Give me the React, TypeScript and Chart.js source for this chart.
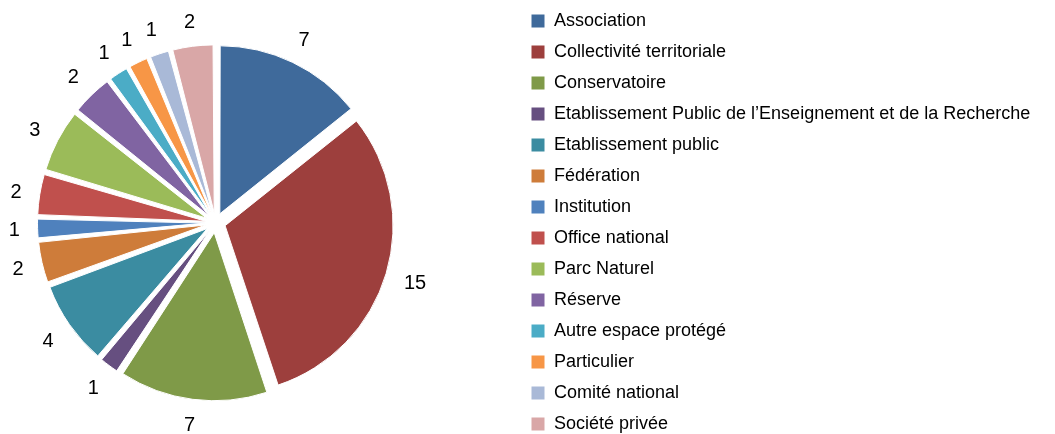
import React, { useEffect, useRef } from "react";
import { Chart, registerables } from "chart.js";

Chart.register(...registerables);

const categories = [
  "Association",
  "Collectivité territoriale",
  "Conservatoire",
  "Etablissement Public de l’Enseignement et de la Recherche",
  "Etablissement public",
  "Fédération",
  "Institution",
  "Office national",
  "Parc Naturel",
  "Réserve",
  "Autre espace protégé",
  "Particulier",
  "Comité national",
  "Société privée",
];

const counts = [7, 15, 7, 1, 4, 2, 1, 2, 3, 2, 1, 1, 1, 2];

const sliceColors = [
  "#3F6A9B",
  "#9D3F3D",
  "#7F9A48",
  "#664F80",
  "#3B8CA1",
  "#CE7C3A",
  "#4F81BD",
  "#C0504D",
  "#9BBB59",
  "#8064A2",
  "#4BACC6",
  "#F79646",
  "#A9B9D7",
  "#D9A7A7",
];

// layout constants (styles / geometry of the frame, not data)
const CANVAS_W = 1055;
const CANVAS_H = 460;
const CENTER_X = 215.5;
const CENTER_Y = 222.8;
const AREA = 377;
const EXPLODE = 10; // px translation of every slice
const OFFSET = EXPLODE * 4; // chart.js divides offset by 4
const LEGEND_LEFT = 518;
const LEGEND_TOP = -1;
const LABEL_GAP = 17.5;
const FONT = "'Liberation Sans', Arial, sans-serif";

const framePlugin = {
  id: "framePlugin",
  afterLayout(chart: any) {
    const a = chart.chartArea;
    a.left = CENTER_X - AREA / 2;
    a.right = CENTER_X + AREA / 2;
    a.top = CENTER_Y - AREA / 2;
    a.bottom = CENTER_Y + AREA / 2;
    a.width = AREA;
    a.height = AREA;
    const lg = chart.legend;
    if (lg) {
      const w = lg.width;
      const h = lg.height;
      lg.left = LEGEND_LEFT;
      lg.right = LEGEND_LEFT + w;
      lg.top = LEGEND_TOP;
      lg.bottom = LEGEND_TOP + h;
    }
  },
  afterDatasetsUpdate(chart: any) {
    const meta = chart.getDatasetMeta(0);
    meta.data.forEach((arc: any) => {
      const off = OFFSET / 4;
      const fix = 1 - Math.sin(Math.min(Math.PI, arc.circumference || 0));
      arc.outerRadius = arc.outerRadius - off * fix;
    });
  },
};

const labelPlugin = {
  id: "outsideLabels",
  afterDatasetsDraw(chart: any) {
    const meta = chart.getDatasetMeta(0);
    const ctx = chart.ctx;
    const baseR = meta.controller.outerRadius;
    ctx.save();
    ctx.font = `20px ${FONT}`;
    ctx.fillStyle = "#000";
    ctx.textAlign = "center";
    ctx.textBaseline = "middle";
    meta.data.forEach((arc: any, i: number) => {
      const mid = (arc.startAngle + arc.endAngle) / 2;
      const ux = Math.cos(mid);
      const uy = Math.sin(mid);
      const text = String(counts[i]);
      const hw = ctx.measureText(text).width / 2;
      const hh = 7;
      const R = baseR + EXPLODE + LABEL_GAP + Math.abs(ux) * hw + Math.abs(uy) * hh;
      ctx.fillText(text, arc.x + ux * R, arc.y + uy * R + 1.5);
    });
    ctx.restore();
  },
};

export default function App() {
  const ref = useRef<HTMLCanvasElement | null>(null);

  useEffect(() => {
    if (!ref.current) return;
    const chart = new Chart(ref.current, {
      type: "pie",
      data: {
        labels: categories,
        datasets: [
          {
            data: counts,
            backgroundColor: sliceColors,
            borderColor: "#ffffff",
            borderWidth: 1,
            offset: OFFSET,
            hoverOffset: OFFSET,
            clip: false,
          } as any,
        ],
      },
      options: {
        responsive: false,
        animation: false,
        devicePixelRatio: 1,
        layout: { padding: 0 },
        plugins: {
          legend: {
            display: true,
            position: "right",
            align: "start",
            labels: {
              boxWidth: 14,
              boxHeight: 14,
              padding: 13,
              color: "#000",
              font: { family: FONT, size: 18 },
            },
          },
          tooltip: { enabled: false },
        },
      },
      plugins: [framePlugin, labelPlugin],
    });
    return () => chart.destroy();
  }, []);

  return (
    <div
      style={{
        position: "fixed",
        left: 0,
        top: 0,
        width: CANVAS_W,
        height: CANVAS_H,
        background: "#fff",
      }}
    >
      <canvas
        ref={ref}
        width={CANVAS_W}
        height={CANVAS_H}
        style={{ width: CANVAS_W, height: CANVAS_H, display: "block" }}
      />
    </div>
  );
}
